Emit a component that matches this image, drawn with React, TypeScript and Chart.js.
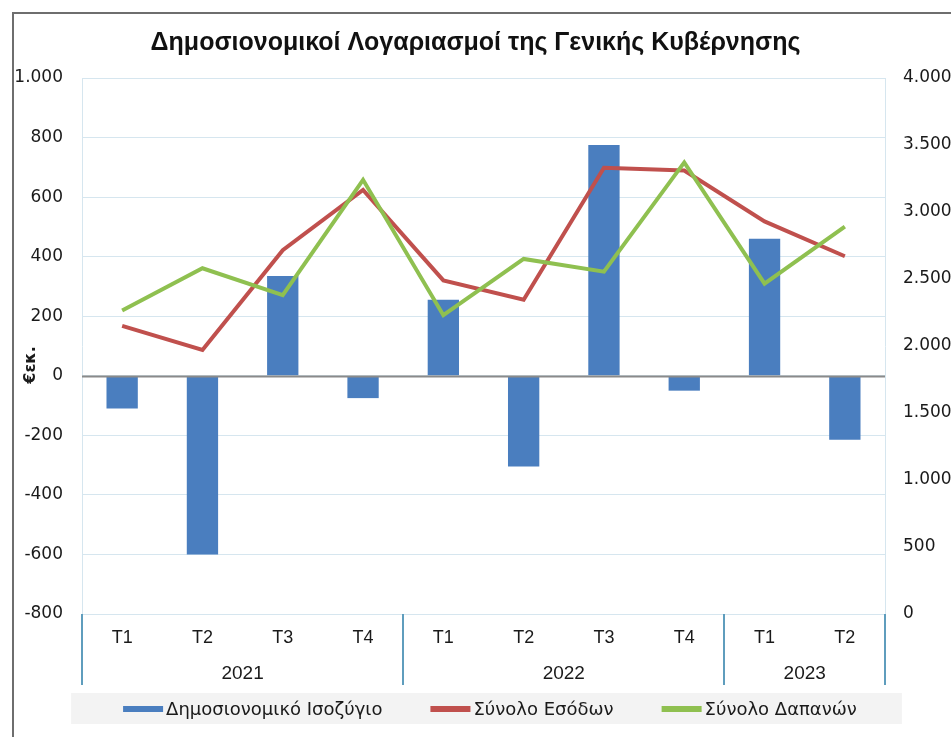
import React, { useEffect, useRef } from "react";
import { Chart, registerables } from "chart.js";

Chart.register(...registerables);

const TITLE = "Δημοσιονομικοί Λογαριασμοί της Γενικής Κυβέρνησης";
const quarters = ["T1", "T2", "T3", "T4", "T1", "T2", "T3", "T4", "T1", "T2"];
const years = ["2021", "2022", "2023"];
const yearCounts = [4, 4, 2];
const balance = [-110, -600, 335, -75, 255, -305, 775, -50, 460, -215];
const revenue = [2150, 1970, 2715, 3165, 2490, 2345, 3330, 3310, 2930, 2670];
const expenditure = [2265, 2580, 2380, 3240, 2230, 2650, 2555, 3370, 2465, 2890];
const seriesNames = ["Δημοσιονομικό Ισοζύγιο", "Σύνολο Εσόδων", "Σύνολο Δαπανών"];
const yTitle = "€εκ.";

const BLUE = "#4a7ebf";
const RED = "#c0504d";
const GREEN = "#8fc050";
const GRID = "#d6e6ef";
const SEP = "#5f9dbd";

const fmt = (v: number) => {
  const s = Math.abs(v).toString().replace(/\B(?=(\d{3})+(?!\d))/g, ".");
  return (v < 0 ? "-" : "") + s;
};

const decorPlugin = {
  id: "decor",
  beforeDraw(chart: any) {
    const ctx = chart.ctx;
    ctx.save();
    ctx.fillStyle = "#ffffff";
    ctx.fillRect(0, 0, chart.width, chart.height);
    // outer frame
    ctx.strokeStyle = "#6e6e6e";
    ctx.lineWidth = 2;
    ctx.beginPath();
    ctx.moveTo(13, chart.height + 5);
    ctx.lineTo(13, 13);
    ctx.lineTo(chart.width + 5, 13);
    ctx.stroke();
    ctx.restore();
  },
  afterDatasetsDraw(chart: any) {
    const ctx = chart.ctx;
    const y = chart.scales.y;
    const area = chart.chartArea;
    ctx.save();
    const y0 = Math.round(y.getPixelForValue(0)) + 0.5;
    ctx.strokeStyle = "#8a8a8a";
    ctx.lineWidth = 2;
    ctx.beginPath();
    ctx.moveTo(area.left, y0);
    ctx.lineTo(area.right, y0);
    ctx.stroke();
    ctx.restore();
  },
  afterDraw(chart: any) {
    const ctx = chart.ctx;
    const x = chart.scales.x;
    const area = chart.chartArea;
    ctx.save();
    // year separators + labels
    const half = (x.getPixelForValue(1) - x.getPixelForValue(0)) / 2;
    let idx = 0;
    const bounds: number[] = [x.getPixelForValue(0) - half];
    years.forEach((yr, i) => {
      const start = idx;
      idx += yearCounts[i];
      const left = x.getPixelForValue(start) - half;
      const right = x.getPixelForValue(idx - 1) + half;
      bounds.push(right);
      ctx.fillStyle = "#1a1a1a";
      ctx.font = "19px 'Liberation Sans', Arial, sans-serif";
      ctx.textAlign = "center";
      ctx.textBaseline = "middle";
      ctx.fillText(yr, (left + right) / 2, 674);
    });
    ctx.strokeStyle = SEP;
    ctx.lineWidth = 2;
    bounds.forEach((bx) => {
      ctx.beginPath();
      ctx.moveTo(Math.round(bx), area.bottom);
      ctx.lineTo(Math.round(bx), 685);
      ctx.stroke();
    });

    // y-axis title
    ctx.save();
    ctx.translate(31, 365);
    ctx.rotate(-Math.PI / 2);
    ctx.font = "bold 16px 'DejaVu Sans', Verdana, sans-serif";
    ctx.fillStyle = "#1a1a1a";
    ctx.textAlign = "center";
    ctx.textBaseline = "middle";
    ctx.fillText(yTitle, 0, 0);
    ctx.restore();

    // legend
    const colors = [BLUE, RED, GREEN];
    ctx.font = "18px 'DejaVu Sans', Verdana, sans-serif";
    const sw = 40;
    const gap = 3;
    const itemGap = 48;
    const widths = chart.data.datasets.map((d: any) => sw + gap + ctx.measureText(d.label).width);
    const total = widths.reduce((a: number, b: number) => a + b, 0) + itemGap * (widths.length - 1);
    let lx = 490 - total / 2;
    const ly = 709;
    ctx.fillStyle = "#f3f3f3";
    ctx.fillRect(lx - 52, ly - 16, total + 97, 31);
    chart.data.datasets.forEach((d: any, i: number) => {
      ctx.fillStyle = colors[i];
      ctx.fillRect(lx, ly - 3, sw, 6);
      ctx.fillStyle = "#1a1a1a";
      ctx.textAlign = "left";
      ctx.textBaseline = "middle";
      ctx.fillText(d.label, lx + sw + gap, ly + 1);
      lx += widths[i] + itemGap;
    });
    ctx.restore();
  },
};

export default function App() {
  const ref = useRef<HTMLCanvasElement | null>(null);
  useEffect(() => {
    document.body.style.margin = "0";
    document.body.style.overflow = "hidden";
    const numFont = { family: "'DejaVu Sans', Verdana, sans-serif", size: 17 };
    const chart = new Chart(ref.current as HTMLCanvasElement, {
      data: {
        labels: quarters,
        datasets: [
          {
            type: "bar",
            label: seriesNames[0],
            data: balance,
            backgroundColor: BLUE,
            yAxisID: "y",
            barPercentage: 0.39,
            categoryPercentage: 1,
            order: 3,
          },
          {
            type: "line",
            label: seriesNames[1],
            data: revenue,
            borderColor: RED,
            backgroundColor: RED,
            borderWidth: 4,
            pointRadius: 0,
            tension: 0,
            yAxisID: "y1",
            order: 2,
          },
          {
            type: "line",
            label: seriesNames[2],
            data: expenditure,
            borderColor: GREEN,
            backgroundColor: GREEN,
            borderWidth: 4,
            pointRadius: 0,
            tension: 0,
            yAxisID: "y1",
            order: 1,
          },
        ],
      } as any,
      options: {
        animation: false,
        responsive: false,
        maintainAspectRatio: false,
        layout: { padding: 0 },
        plugins: {
          legend: { display: false },
          tooltip: { enabled: false },
          title: {
            display: true,
            text: TITLE,
            color: "#111",
            font: { family: "'Liberation Sans', Arial, sans-serif", size: 25, weight: "bold", lineHeight: 1.2 },
            padding: { top: 28, bottom: 20 },
          },
        },
        scales: {
          x: {
            type: "category",
            offset: true,
            grid: { display: false, drawTicks: false },
            border: { display: true, color: GRID, width: 1 },
            ticks: {
              color: "#1a1a1a",
              font: { family: "'Liberation Sans', Arial, sans-serif", size: 18 },
              padding: 13,
              maxRotation: 0,
              autoSkip: false,
            },
            afterFit: (s: any) => {
              s.height = 123;
            },
          },
          y: {
            position: "left",
            min: -800,
            max: 1000,
            grid: { color: GRID, lineWidth: 1, drawTicks: false },
            border: { display: true, color: GRID, width: 1 },
            ticks: {
              stepSize: 200,
              color: "#1a1a1a",
              font: numFont,
              padding: 19,
              callback: (v: any) => fmt(Number(v)),
            },
            afterFit: (s: any) => {
              s.width = 82;
            },
          },
          y1: {
            position: "right",
            min: 0,
            max: 4000,
            grid: { display: false, drawTicks: false },
            border: { display: true, color: GRID, width: 1 },
            ticks: {
              stepSize: 500,
              color: "#1a1a1a",
              font: numFont,
              padding: 18,
              callback: (v: any) => fmt(Number(v)),
            },
            afterFit: (s: any) => {
              s.width = 66;
            },
          },
        },
      } as any,
      plugins: [decorPlugin],
    });
    return () => chart.destroy();
  }, []);
  return (
    <div style={{ width: 951, height: 737 }}>
      <canvas ref={ref} width={951} height={737} style={{ display: "block", width: 951, height: 737 }} />
    </div>
  );
}
